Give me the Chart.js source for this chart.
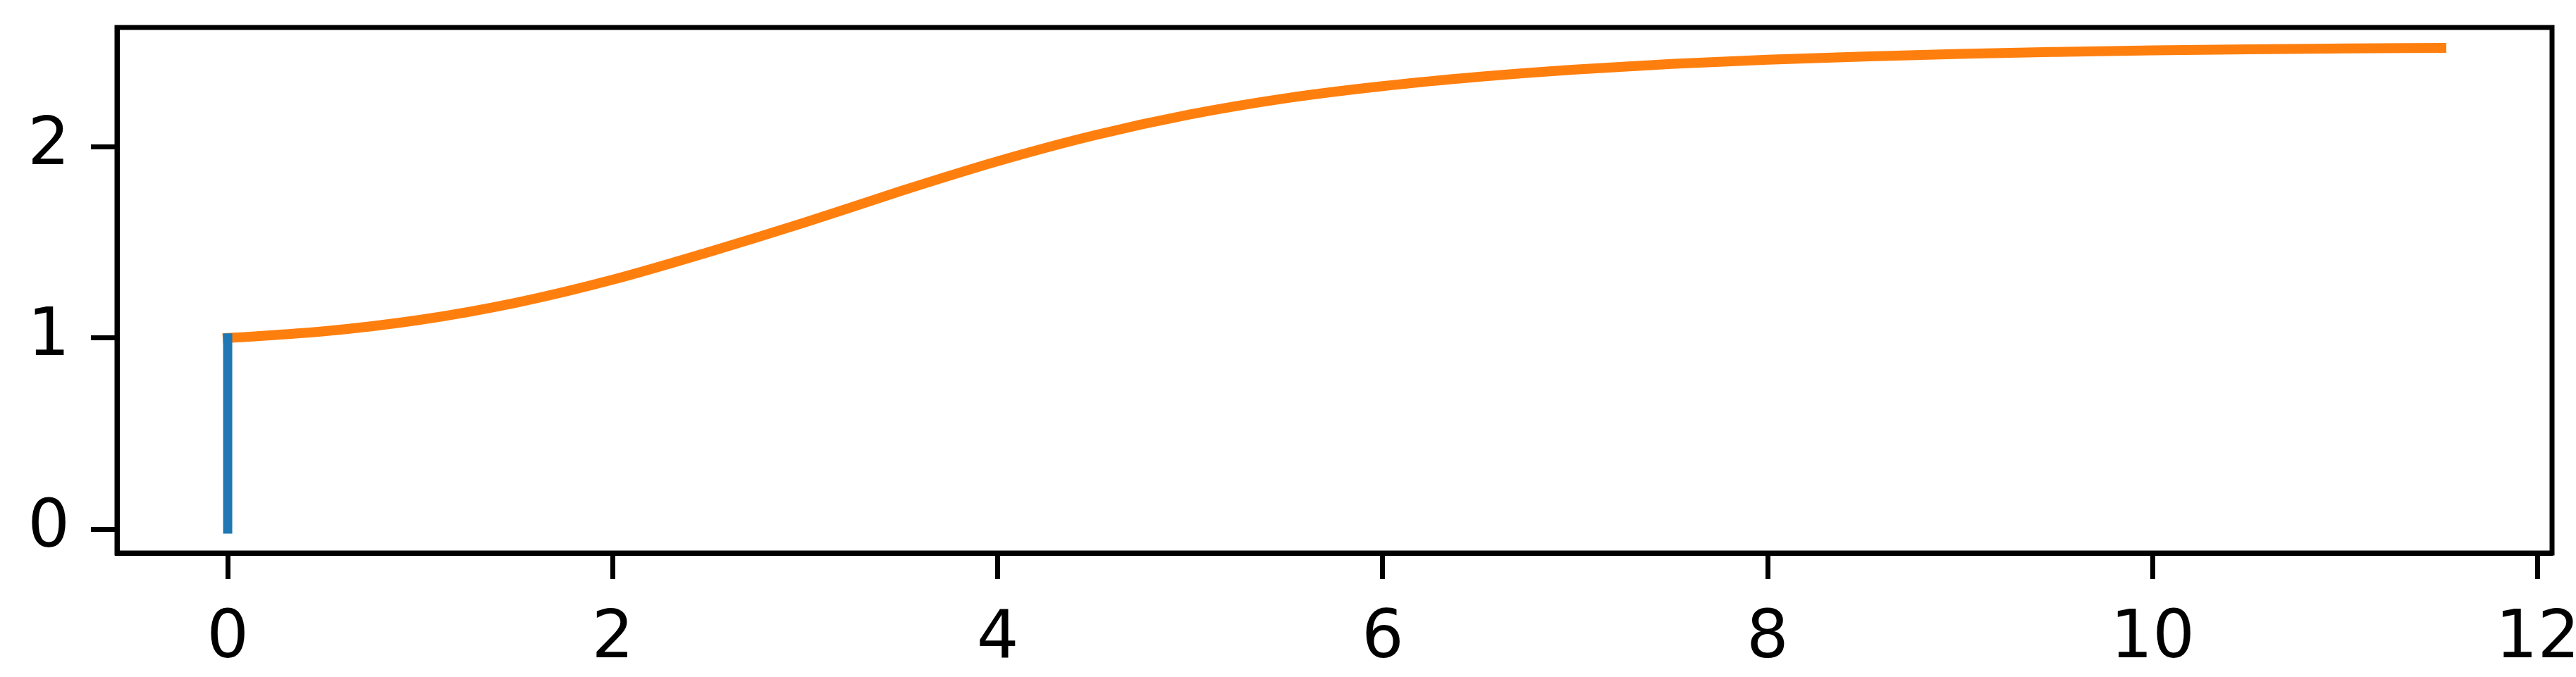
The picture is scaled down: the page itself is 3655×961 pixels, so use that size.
<!DOCTYPE html>
<html>
<head>
<meta charset="utf-8">
<script src="https://cdn.jsdelivr.net/npm/chart.js@4"></script>
<style>
  html, body { margin: 0; padding: 0; background: #fff; }
  #wrap { width: 3655px; height: 961px; }
</style>
</head>
<body>
<div id="wrap"><canvas id="lineCanvas"></canvas></div>
<script>
// values
var stemX = [0, 0];
var stemY = [0, 1];
var curveX = [0, 0.5, 1, 1.5, 2, 2.5, 3, 3.5, 4, 4.5, 5, 5.5, 6, 6.5, 7, 7.5, 8, 8.5, 9, 9.5, 10, 10.5, 11, 11.5];
var curveY = [1.0, 1.035, 1.095, 1.185, 1.305, 1.45, 1.605, 1.77, 1.925, 2.06, 2.17, 2.255, 2.318, 2.367, 2.405, 2.434, 2.456, 2.473, 2.487, 2.497, 2.505, 2.511, 2.515, 2.518];
var xTicks = [0, 2, 4, 6, 8, 10, 12];
var yTicks = [0, 1, 2];

function toPoints(xs, ys) {
  return xs.map(function (x, i) { return { x: x, y: ys[i] }; });
}

// top and right spines (chart.js only draws left/bottom)
var frame = {
  id: 'frame',
  afterDraw: function (chart) {
    var a = chart.chartArea;
    var c = chart.ctx;
    c.save();
    c.strokeStyle = '#000';
    c.lineWidth = 7;
    c.lineCap = 'square';
    c.strokeRect(a.left, a.top, a.right - a.left, a.bottom - a.top);
    c.restore();
  }
};

// no extra room for labels hanging over the ends
function noPad(s) {
  s.paddingTop = 0;
  s.paddingBottom = 0;
  s.paddingLeft = 0;
  s.paddingRight = 0;
}

var tickFont = { family: 'DejaVu Sans', size: 94 };

var config = {
  type: 'line',
  data: {
    datasets: [
      {
        data: toPoints(stemX, stemY),
        borderColor: '#1f77b4',
        borderWidth: 13,
        borderCapStyle: 'square',
        pointRadius: 0
      },
      {
        data: toPoints(curveX, curveY),
        borderColor: '#ff7f0e',
        borderWidth: 14,
        borderCapStyle: 'square',
        cubicInterpolationMode: 'monotone',
        pointRadius: 0
      }
    ]
  },
  options: {
    responsive: true,
    maintainAspectRatio: false,
    animation: false,
    layout: { padding: { top: 39, right: 34, left: 0, bottom: 0 } },
    plugins: {
      legend: { display: false },
      tooltip: { enabled: false }
    },
    scales: {
      x: {
        type: 'linear',
        min: -0.575,
        max: 12.075,
        afterBuildTicks: function (s) { s.ticks = xTicks.map(function (v) { return { value: v }; }); },
        afterFit: function (s) { s.height = 176; noPad(s); },
        grid: { drawOnChartArea: false, tickLength: 37, tickWidth: 7, tickColor: '#000' },
        border: { color: '#000', width: 7 },
        ticks: { color: '#000', font: tickFont, padding: 30, maxRotation: 0 }
      },
      y: {
        type: 'linear',
        min: -0.125,
        max: 2.625,
        afterBuildTicks: function (s) { s.ticks = yTicks.map(function (v) { return { value: v }; }); },
        afterFit: function (s) { s.width = 166; noPad(s); },
        grid: { drawOnChartArea: false, tickLength: 37, tickWidth: 7, tickColor: '#000' },
        border: { color: '#000', width: 7 },
        ticks: { color: '#000', font: tickFont, padding: 30 }
      }
    }
  },
  plugins: [frame]
};

var ctx = document.getElementById('lineCanvas');
var lineChart = new Chart(ctx, config);
</script>
</body>
</html>
